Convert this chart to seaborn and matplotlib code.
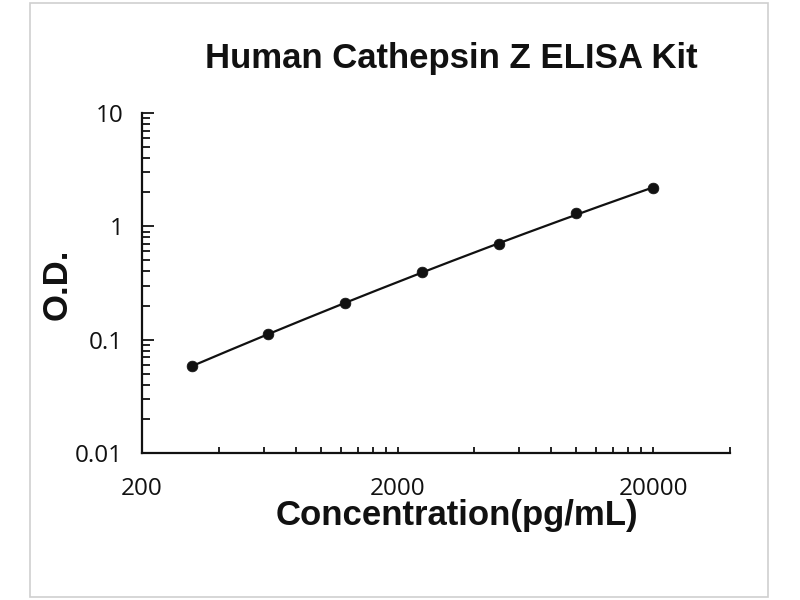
import numpy as np
import pandas as pd
import matplotlib
matplotlib.use("Agg")
import matplotlib.pyplot as plt
import matplotlib.ticker as mticker
from matplotlib.patches import Rectangle
import seaborn as sns

# ---- data ----
concentration = [312.5, 625, 1250, 2500, 5000, 10000, 20000]   # pg/mL
od_values = [0.0586, 0.1116, 0.2095, 0.3935, 0.703, 1.305, 2.17]
x_major_ticks = [200, 2000, 20000]
x_tick_labels = ["200", "2000", "20000"]
y_major_ticks = [0.01, 0.1, 1, 10]
y_tick_labels = ["0.01", "0.1", "1", "10"]
title_text = "Human Cathepsin Z ELISA Kit"
x_label = "Concentration(pg/mL)"
y_label = "O.D."

sns.set_style("white")
plt.rcParams['font.family'] = ['Liberation Sans', 'DejaVu Sans']

df = pd.DataFrame({"conc": concentration, "od": od_values})

# trendline: quadratic fit in log-log space
coef = np.polyfit(np.log10(df["conc"]), np.log10(df["od"]), 2)
fit_x = np.logspace(np.log10(min(concentration)), np.log10(max(concentration)), 200)
fit_y = 10 ** np.polyval(coef, np.log10(fit_x))
fit_df = pd.DataFrame({"conc": fit_x, "od": fit_y})

fig = plt.figure(figsize=(8, 6), dpi=100)
ax = fig.add_axes([142/800, 1-453/600, (730-142)/800, (453-113)/600])

sns.lineplot(data=fit_df, x="conc", y="od", ax=ax, color="#111111", lw=1.6)
sns.scatterplot(data=df, x="conc", y="od", ax=ax, color="#111111", s=60,
                edgecolor="#111111", linewidth=0.5, zorder=3)

ax.set_xscale("log")
ax.set_yscale("log")
ax.set_xlim(200, 40000)
ax.set_ylim(0.01, 10)

ax.xaxis.set_major_locator(mticker.FixedLocator(x_major_ticks))
ax.xaxis.set_major_formatter(mticker.FixedFormatter(x_tick_labels))
x_minor = [m * d for d in (200, 2000, 20000) for m in range(2, 10)]
x_minor = [v for v in x_minor if v <= 40000]
ax.xaxis.set_minor_locator(mticker.FixedLocator(x_minor))
ax.xaxis.set_minor_formatter(mticker.NullFormatter())

ax.yaxis.set_major_locator(mticker.FixedLocator(y_major_ticks))
ax.yaxis.set_major_formatter(mticker.FixedFormatter(y_tick_labels))
ax.yaxis.set_minor_locator(mticker.LogLocator(base=10, subs=np.arange(2, 10)))
ax.yaxis.set_minor_formatter(mticker.NullFormatter())

for s in ("top", "right"):
    ax.spines[s].set_visible(False)
for s in ("left", "bottom"):
    ax.spines[s].set_linewidth(1.6)
    ax.spines[s].set_color("#111111")

ax.tick_params(axis="x", which="both", direction="in", length=4.5, width=1.3,
               color="#111111", pad=17, bottom=True, top=False)
ax.tick_params(axis="y", which="major", direction="in", length=8.5, width=1.3,
               color="#111111", pad=13.5, left=True, right=False)
ax.tick_params(axis="y", which="minor", direction="in", length=5.5, width=1.3,
               color="#111111", left=True, right=False)
for lab in ax.get_xticklabels() + ax.get_yticklabels():
    lab.set_fontfamily(["Open Sans", "DejaVu Sans"])
    lab.set_fontsize(17.5)
    lab.set_color("#111111")

ax.set_xlabel("")
ax.set_ylabel("")

fig.text(451.5/800, 1-68/600, title_text, ha="center", va="baseline",
         fontsize=25, fontweight="bold", color="#111111")
fig.text(456.5/800, 1-525/600, x_label, ha="center", va="baseline",
         fontsize=25, fontweight="bold", color="#111111")
fig.text(57/800, 1-284/600, y_label, ha="center", va="center", rotation=90,
         fontsize=25, fontweight="bold", color="#111111")

fig.patches.append(Rectangle((30/800, 3/600), (768-30)/800, (597-3)/600,
                             transform=fig.transFigure, fill=False,
                             edgecolor="#cfcfcf", lw=1.2))

fig.savefig("out.png", dpi=100)
